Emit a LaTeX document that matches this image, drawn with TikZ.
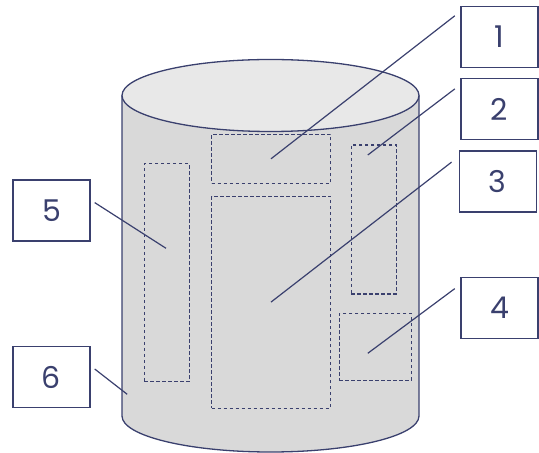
\documentclass[tikz,border=0pt]{standalone}
\usepackage{fontspec}
\setmainfont{Poppins}
\usetikzlibrary{positioning, calc}
\definecolor{inkblue}{RGB}{58,64,110}
\definecolor{sidegray}{RGB}{217,217,217}
\definecolor{topgray}{RGB}{232,232,232}

\begin{document}
\begin{tikzpicture}[
    x=1pt, y=1pt,
    every node/.style={font=\fontsize{30}{34}\selectfont, text=inkblue},
    labelbox/.style={
        rectangle,
        draw=inkblue,
        line width=1.4pt,
        fill=white,
        minimum width=77pt,
        minimum height=61pt,
        inner sep=0pt
    },
    zone/.style={
        rectangle,
        draw=inkblue,
        line width=1.1pt,
        dash pattern=on 3.5pt off 2.5pt,
        inner sep=0pt
    },
    leader/.style={
        draw=inkblue,
        line width=1.2pt
    }
]
\useasboundingbox (0,0) rectangle (539,453);

% Cylinder body and lid
\filldraw[fill=sidegray, draw=inkblue, line width=1.3pt]
    (122,357.5) -- (122,37)
    arc[start angle=180, end angle=360, x radius=148.5, y radius=36]
    -- (419,357.5);
\filldraw[fill=topgray, draw=inkblue, line width=1.3pt]
    (270.5,357.5) ellipse[x radius=148.5, y radius=36];

% Dashed zones on the side
\node[zone, minimum width=119pt, minimum height=49pt] (ztop) at (271,294.2) {};
\node[zone, minimum width=45pt, minimum height=149pt] (zright) at (373.9,233.5) {};
\node[zone, minimum width=119pt, minimum height=212pt] (zcentre) at (271,150.9) {};
\node[zone, minimum width=72pt, minimum height=67pt] (zcorner) at (375.4,106.4) {};
\node[zone, minimum width=45pt, minimum height=218pt] (zleft) at (166.7,180.2) {};

% Number boxes
\node[labelbox] (lab1) at (499.5,416) {1};
\node[labelbox] (lab2) at (499.5,343.9) {2};
\node[labelbox] (lab3) at (497.8,271.3) {3};
\node[labelbox] (lab4) at (499.5,144.8) {4};
\node[labelbox] (lab5) at (51.5,242.4) {5};
\node[labelbox] (lab6) at (51.5,76) {6};

% Leader ends
\coordinate (p2) at (367.8,298);
\coordinate (p4) at (367.8,99.7);
\coordinate (p5) at (166,204.7);
\coordinate (p6) at (127.2,58.7);

% Leader lines
\draw[leader] ([shift={(-5.5,-10)}]lab1.north west) -- (ztop.center);
\draw[leader] ([shift={(-5.5,-11)}]lab2.north west) -- (p2);
\draw[leader] ([shift={(-7,-11.6)}]lab3.north west) -- (zcentre.center);
\draw[leader] ([shift={(-5.5,-11.6)}]lab4.north west) -- (p4);
\draw[leader] ([shift={(4,8)}]lab5.east) -- (p5);
\draw[leader] ([shift={(4,8)}]lab6.east) -- (p6);

\end{tikzpicture}
\end{document}
